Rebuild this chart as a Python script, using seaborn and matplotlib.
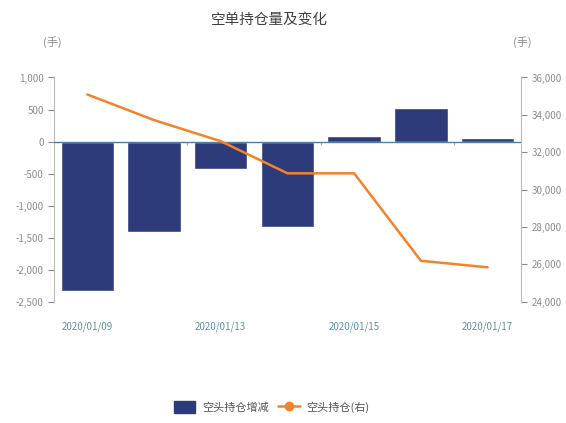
import numpy as np
import pandas as pd
import matplotlib
matplotlib.use("Agg")
import matplotlib.pyplot as plt
import seaborn as sns
from matplotlib.ticker import FuncFormatter
from matplotlib.patches import Patch
from matplotlib.lines import Line2D

dates = ["2020/01/09", "2020/01/10", "2020/01/13", "2020/01/14",
         "2020/01/15", "2020/01/16", "2020/01/17"]
change = [-2340, -1410, -425, -1335, 93, 520, 58]
holding = [35090, 33720, 32590, 30870, 30870, 26190, 25840]
shown_labels = ["2020/01/09", "2020/01/13", "2020/01/15", "2020/01/17"]

title = "空单持仓量及变化"
bar_name = "空头持仓增减"
line_name = "空头持仓(右)"
unit = "(手)"

bar_color = "#2E3B7A"
line_color = "#F4822A"
grey = "#8C8C8C"

sns.set_style("white")
plt.rcParams['font.family'] = ['Noto Sans CJK SC', 'DejaVu Sans']
plt.rcParams['axes.unicode_minus'] = False

df = pd.DataFrame({"date": dates, "change": change, "holding": holding})

fig = plt.figure(figsize=(5.66, 4.23), dpi=100)
ax = fig.add_axes([0.0954, 0.2868, 0.825, 0.530])

sns.barplot(data=df, x="date", y="change", color=bar_color, width=0.8,
            saturation=1, ax=ax)
ax.set_ylim(-2500, 1000)
ax.set_yticks(np.arange(-2500, 1001, 500))
ax.set_xlim(-0.5, len(dates) - 0.5)
ax.axhline(0, color="#4F7FA0", lw=1.0, zorder=3)
ax.vlines([1.5, 3.5, 5.5], -60, 0, color="#9DB3C3", lw=0.8)

ax.yaxis.set_major_formatter(FuncFormatter(lambda v, p: f"{int(v):,}"))
ax.set_xlabel("")
ax.set_ylabel("")
pos = [dates.index(d) for d in shown_labels]
ax.set_xticks(pos)
ax.set_xticklabels(shown_labels, color="#5E8FA8", fontsize=7)
ax.tick_params(axis="x", length=0, pad=14)
ax.tick_params(axis="y", colors=grey, labelsize=7, length=4, width=0.8,
               direction="out", left=True)
for s in ["top", "right", "bottom"]:
    ax.spines[s].set_visible(False)
ax.spines["left"].set_color("#BBBBBB")

ax2 = ax.twinx()
sns.lineplot(x=np.arange(len(dates)), y=holding, color=line_color, lw=1.8,
             ax=ax2)
ax2.set_ylim(24000, 36000)
ax2.set_yticks(np.arange(24000, 36001, 2000))
ax2.yaxis.set_major_formatter(FuncFormatter(lambda v, p: f"{int(v):,}"))
ax2.tick_params(axis="y", colors=grey, labelsize=7, length=4, width=0.8,
                direction="out", right=True)
for s in ["top", "left", "bottom"]:
    ax2.spines[s].set_visible(False)
ax2.spines["right"].set_color("#BBBBBB")
ax2.set_ylabel("")

fig.text(0.476, 0.952, title, ha="center", va="center", fontsize=10.5,
         color="#404040")
fig.text(0.093, 0.90, unit, ha="center", va="center", fontsize=8, color=grey)
fig.text(0.922, 0.90, unit, ha="center", va="center", fontsize=8, color=grey)

handles = [Patch(facecolor=bar_color, edgecolor=bar_color, label=bar_name),
           Line2D([0], [0], color=line_color, lw=1.8, marker="o",
                  markersize=6, label=line_name)]
leg = fig.legend(handles=handles, loc="center", bbox_to_anchor=(0.48, 0.038),
                 ncol=2, frameon=False, fontsize=8, handlelength=1.9,
                 handleheight=1.4, handletextpad=0.6, columnspacing=0.9)
for t in leg.get_texts():
    t.set_color("#555555")

fig.savefig("out.png", dpi=100)
